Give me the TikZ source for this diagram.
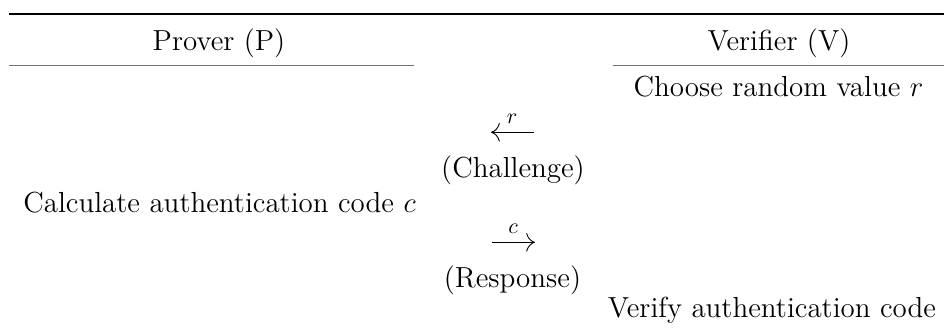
\documentclass[tikz,border=0pt]{standalone}
\usepackage{tikz}
\usetikzlibrary{arrows.meta}
\begin{document}
\begin{tikzpicture}[x=0.5pt,y=-0.5pt,
  txt/.style={anchor=base,inner sep=0pt,font=\fontsize{14.5}{17}\selectfont},
  lbl/.style={anchor=base,inner sep=0pt,font=\fontsize{14.5}{17}\selectfont},
  small/.style={anchor=base,inner sep=0pt,font=\fontsize{10.5}{12}\selectfont},
  toprule/.style={line width=1pt,black},
  midrule/.style={line width=0.75pt,black!55},
  msg/.style={line width=0.45pt,-{To[scale=1.7]}}]
\useasboundingbox (0,0) rectangle (944,333);
% rules
\coordinate (tL) at (9,13.5);
\coordinate (tR) at (944,13.5);
\coordinate (pL) at (9,65.7);
\coordinate (pR) at (413.7,65.7);
\coordinate (vL) at (612.5,65.7);
\coordinate (vR) at (944,65.7);
\draw[toprule] (tL) -- (tR);
\draw[midrule] (pL) -- (pR);
\draw[midrule] (vL) -- (vR);
% headers
\node[txt] (prover) at (219,50) {Prover (P)};
\node[txt] (verifier) at (779,50) {Verifier (V)};
% steps
\node[txt] (choose) at (778.5,96.5) {Choose random value $r$};
\node[txt] (calc) at (219.5,212.5) {Calculate authentication code $c$};
\node[txt] (verify) at (772,317) {Verify authentication code};
% messages
\coordinate (a1R) at (534,132.3);
\coordinate (a1L) at (491,132.3);
\draw[msg] (a1R) -- (a1L);
\node[small] (rlbl) at (512,123) {$r$};
\node[lbl] (chal) at (513,177) {(Challenge)};
\coordinate (a2L) at (492,242.3);
\coordinate (a2R) at (535,242.3);
\draw[msg] (a2L) -- (a2R);
\node[small] (clbl) at (513,233) {$c$};
\node[lbl] (resp) at (512.5,287) {(Response)};
\end{tikzpicture}
\end{document}
